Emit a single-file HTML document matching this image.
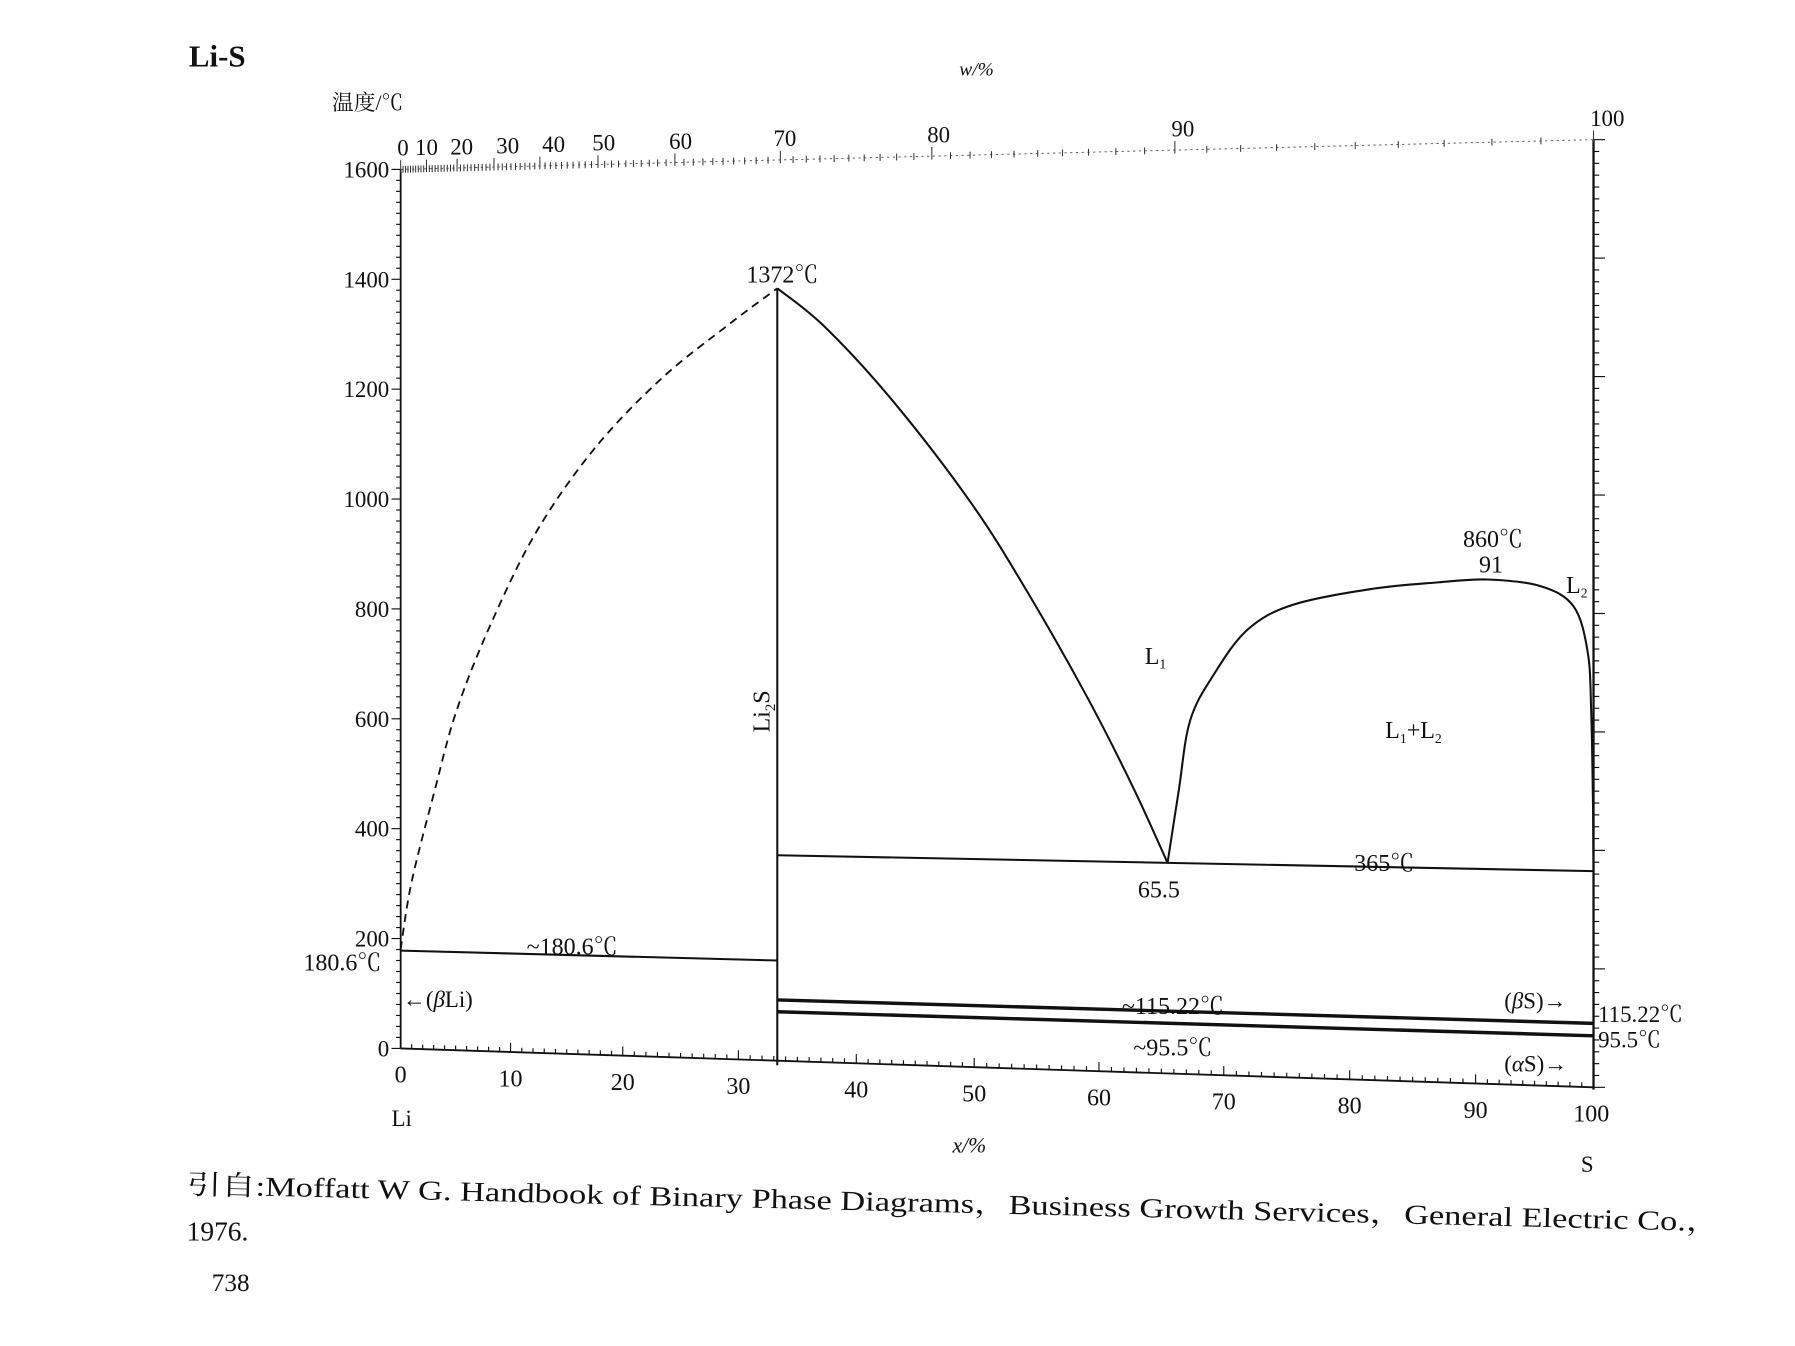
<!DOCTYPE html>
<html><head><meta charset="utf-8"><style>
html,body{margin:0;padding:0;background:#fff;}
svg{display:block;}
text{font-family:"Liberation Serif","Noto Serif CJK SC",serif;fill:#111;}
</style></head><body>
<svg id="chart" width="1795" height="1346" viewBox="0 0 1568 1176" preserveAspectRatio="none" xmlns="http://www.w3.org/2000/svg">
<g id="axes"></g>
<g id="marks"></g>
<g id="labels">
<text x="165" y="58" font-size="27" font-weight="bold">Li-S</text>
<text x="290" y="96" font-size="19">温度/℃</text>
<text x="838" y="66" font-size="17" font-style="italic">w/%</text>
<text x="832" y="1007" font-size="19" font-style="italic">x/%</text>
<text x="342" y="984" font-size="20">Li</text>
<text x="1381" y="1024" font-size="20">S</text>
<text x="652" y="247" font-size="21">1372℃</text>
<text transform="translate(672,640) rotate(-90)" font-size="21">Li<tspan font-size="13" dy="5">2</tspan><tspan dy="-5">S</tspan></text>
<text x="1000" y="580" font-size="21">L<tspan font-size="12" dy="4">1</tspan></text>
<text x="1210" y="645" font-size="21">L<tspan font-size="12" dy="4">1</tspan><tspan dy="-4">+L</tspan><tspan font-size="12" dy="4">2</tspan></text>
<text x="1278" y="478" font-size="21">860℃</text>
<text x="1292" y="500" font-size="21">91</text>
<text x="1368" y="518" font-size="21">L<tspan font-size="12" dy="4">2</tspan></text>
<text x="1183" y="761" font-size="21">365℃</text>
<text x="994" y="784" font-size="21">65.5</text>
<text x="460" y="834" font-size="21">~180.6℃</text>
<text x="265" y="848" font-size="21">180.6℃</text>
<text x="352" y="880" font-size="20">←(<tspan font-style="italic">β</tspan>Li)</text>
<text x="980" y="886" font-size="21">~115.22℃</text>
<text x="990" y="922" font-size="21">~95.5℃</text>
<text x="1314" y="881" font-size="20">(<tspan font-style="italic">β</tspan>S)→</text>
<text x="1314" y="936" font-size="20">(<tspan font-style="italic">α</tspan>S)→</text>
<text x="1396" y="893" font-size="20">115.22℃</text>
<text x="1396" y="915" font-size="20">95.5℃</text>
<text transform="translate(163,1043) rotate(1.4)" font-size="24" textLength="1340" lengthAdjust="spacingAndGlyphs">引自:Moffatt W G. Handbook of Binary Phase Diagrams，Business Growth Services，General Electric Co.，</text>
<text x="163" y="1084" font-size="24">1976.</text>
<text x="185" y="1128" font-size="22">738</text>
</g>
</svg>
<script>
// ---- data ----
const xTickVals = [0,10,20,30,40,50,60,70,80,90,100];
const yTickVals = [0,200,400,600,800,1000,1200,1400,1600];
const wTickVals = [0,10,20,30,40,50,60,70,80,90,100];
const liqLeftX = [0,1,3.1,5.1,8.2,12.3,17.5,23.4,29.3,33.3];
const liqLeftT = [180.6,304,471,617,773,940,1090,1215,1311,1372];
const liqRightX = [33.3,37.3,43.1,49.8,54.5,59.1,62.8,65.5];
const liqRightT = [1372,1303,1170,988,825,649,492,365];
const gapX = [65.5,66.4,67.3,69.2,71.9,75.5,81.9,87,91,95.5,98.3,99.5,99.8,99.95,100];
const gapT = [365,492,612,692,770,813,841,852,857,846,812,736,639,484,365];
const isoName = ['isotherm-180-6','isotherm-365','isotherm-115-22','isotherm-95-5'];
const isoX1 = [0,33.3,33.3,33.3];
const isoX2 = [33.3,100,100,100];
const isoT = [178,365,108,87];
const compoundX = [33.3];
const compoundT = [1372];

// ---- axis functions ----
const xPix = [350,446,544,645,748,851,960,1069,1179,1289,1392];
function PX(x){
  if(x<=0) return xPix[0];
  if(x>=100) return xPix[10];
  const i=Math.floor(x/10), f=x/10-i;
  return xPix[i]+(xPix[i+1]-xPix[i])*f;
}
function PY(x,T){
  const f=(PX(x)-350)/1042;
  const y0=916+34*f, y1=148-26*f;
  return y0+(y1-y0)*T/1600;
}
function wToX(w){ const s=w/32.06, l=(100-w)/6.94; return 100*s/(s+l); }

const NS='http://www.w3.org/2000/svg';
const axes=document.getElementById('axes');
const marks=document.getElementById('marks');
function mk(tag,attrs,parent){
  const e=document.createElementNS(NS,tag);
  for(const k in attrs) e.setAttribute(k,attrs[k]);
  parent.appendChild(e); return e;
}
function smooth(xs,ts){
  const p=xs.map((x,i)=>[PX(x),PY(x,ts[i])]);
  let d='M'+p[0][0].toFixed(1)+','+p[0][1].toFixed(1);
  for(let i=0;i<p.length-1;i++){
    const p0=p[i-1]||p[i], p1=p[i], p2=p[i+1], p3=p[i+2]||p2;
    const c1=[p1[0]+(p2[0]-p0[0])/6, p1[1]+(p2[1]-p0[1])/6];
    const c2=[p2[0]-(p3[0]-p1[0])/6, p2[1]-(p3[1]-p1[1])/6];
    d+=' C'+c1.map(v=>v.toFixed(1)).join(',')+' '+c2.map(v=>v.toFixed(1)).join(',')+' '+p2.map(v=>v.toFixed(1)).join(',');
  }
  return d;
}

let e;
e=mk('line',{x1:350,y1:148,x2:350,y2:916,stroke:'#111','stroke-width':1.6},axes);
 
e=mk('line',{x1:1392,y1:122,x2:1392,y2:952,stroke:'#111','stroke-width':2},axes);
 
e=mk('line',{x1:PX(0),y1:PY(0,0),x2:PX(100),y2:PY(100,0),stroke:'#111','stroke-width':1.6},axes);
 
e=mk('line',{x1:PX(0),y1:PY(0,1600),x2:PX(100),y2:PY(100,1600),stroke:'#555','stroke-width':0.8,'stroke-dasharray':'2 3'},axes);
 

for(let T=0;T<=1600;T+=20){
  const major=T%200===0;
  e=mk('line',{x1:350,y1:PY(0,T),x2:major?342:346,y2:PY(0,T),stroke:'#111','stroke-width':1},axes);
   
  e=mk('line',{x1:1392,y1:PY(100,T),x2:major?1402:1397,y2:PY(100,T),stroke:'#111','stroke-width':1},axes);
   
}
yTickVals.forEach(T=>{
  const t=mk('text',{x:340,y:PY(0,T)+7,'font-size':20,'text-anchor':'end'},axes);
  t.textContent=T;
   
});
for(let x=0;x<=100;x+=1){
  const major=x%10===0;
  e=mk('line',{x1:PX(x),y1:PY(x,0),x2:PX(x),y2:PY(x,0)-(major?8:4),stroke:'#111','stroke-width':1},axes);
   
}
xTickVals.forEach(x=>{
  const t=mk('text',{x:PX(x)-(x===100?2:0),y:PY(x,0)+30,'font-size':21,'text-anchor':'middle'},axes);
  t.textContent=x;
   
});
for(let w=0;w<=100;w+=1){
  const x=wToX(w), major=w%10===0;
  e=mk('line',{x1:PX(x),y1:PY(x,1600)+3,x2:PX(x),y2:PY(x,1600)-(major?8:3),stroke:'#333','stroke-width':0.9},axes);
   
}
const wLabelShift=[2,0,4,12,12,5,5,4,6,7,12];
wTickVals.forEach((w,i)=>{
  const x=wToX(w);
  const t=mk('text',{x:PX(x)+wLabelShift[i],y:PY(x,1600)-12,'font-size':20,'text-anchor':'middle'},axes);
  t.textContent=w;
   
});

e=mk('path',{d:smooth(liqLeftX,liqLeftT),fill:'none',stroke:'#111','stroke-width':1.6,'stroke-dasharray':'7 5'},marks);
 
e=mk('path',{d:smooth(liqRightX,liqRightT),fill:'none',stroke:'#111','stroke-width':1.8},marks);
 
e=mk('path',{d:smooth(gapX,gapT),fill:'none',stroke:'#111','stroke-width':1.8},marks);
 
compoundX.forEach((x,i)=>{
  e=mk('line',{x1:PX(x),y1:PY(x,compoundT[i]),x2:PX(x),y2:PY(x,0)+4,stroke:'#111','stroke-width':1.8},marks);
   
});
isoT.forEach((T,i)=>{
  e=mk('line',{x1:PX(isoX1[i]),y1:PY(isoX1[i],T),x2:PX(isoX2[i]),y2:PY(isoX2[i],T),stroke:'#111','stroke-width':i>=2?3:1.8},marks);
   
});
</script>
</body></html>
